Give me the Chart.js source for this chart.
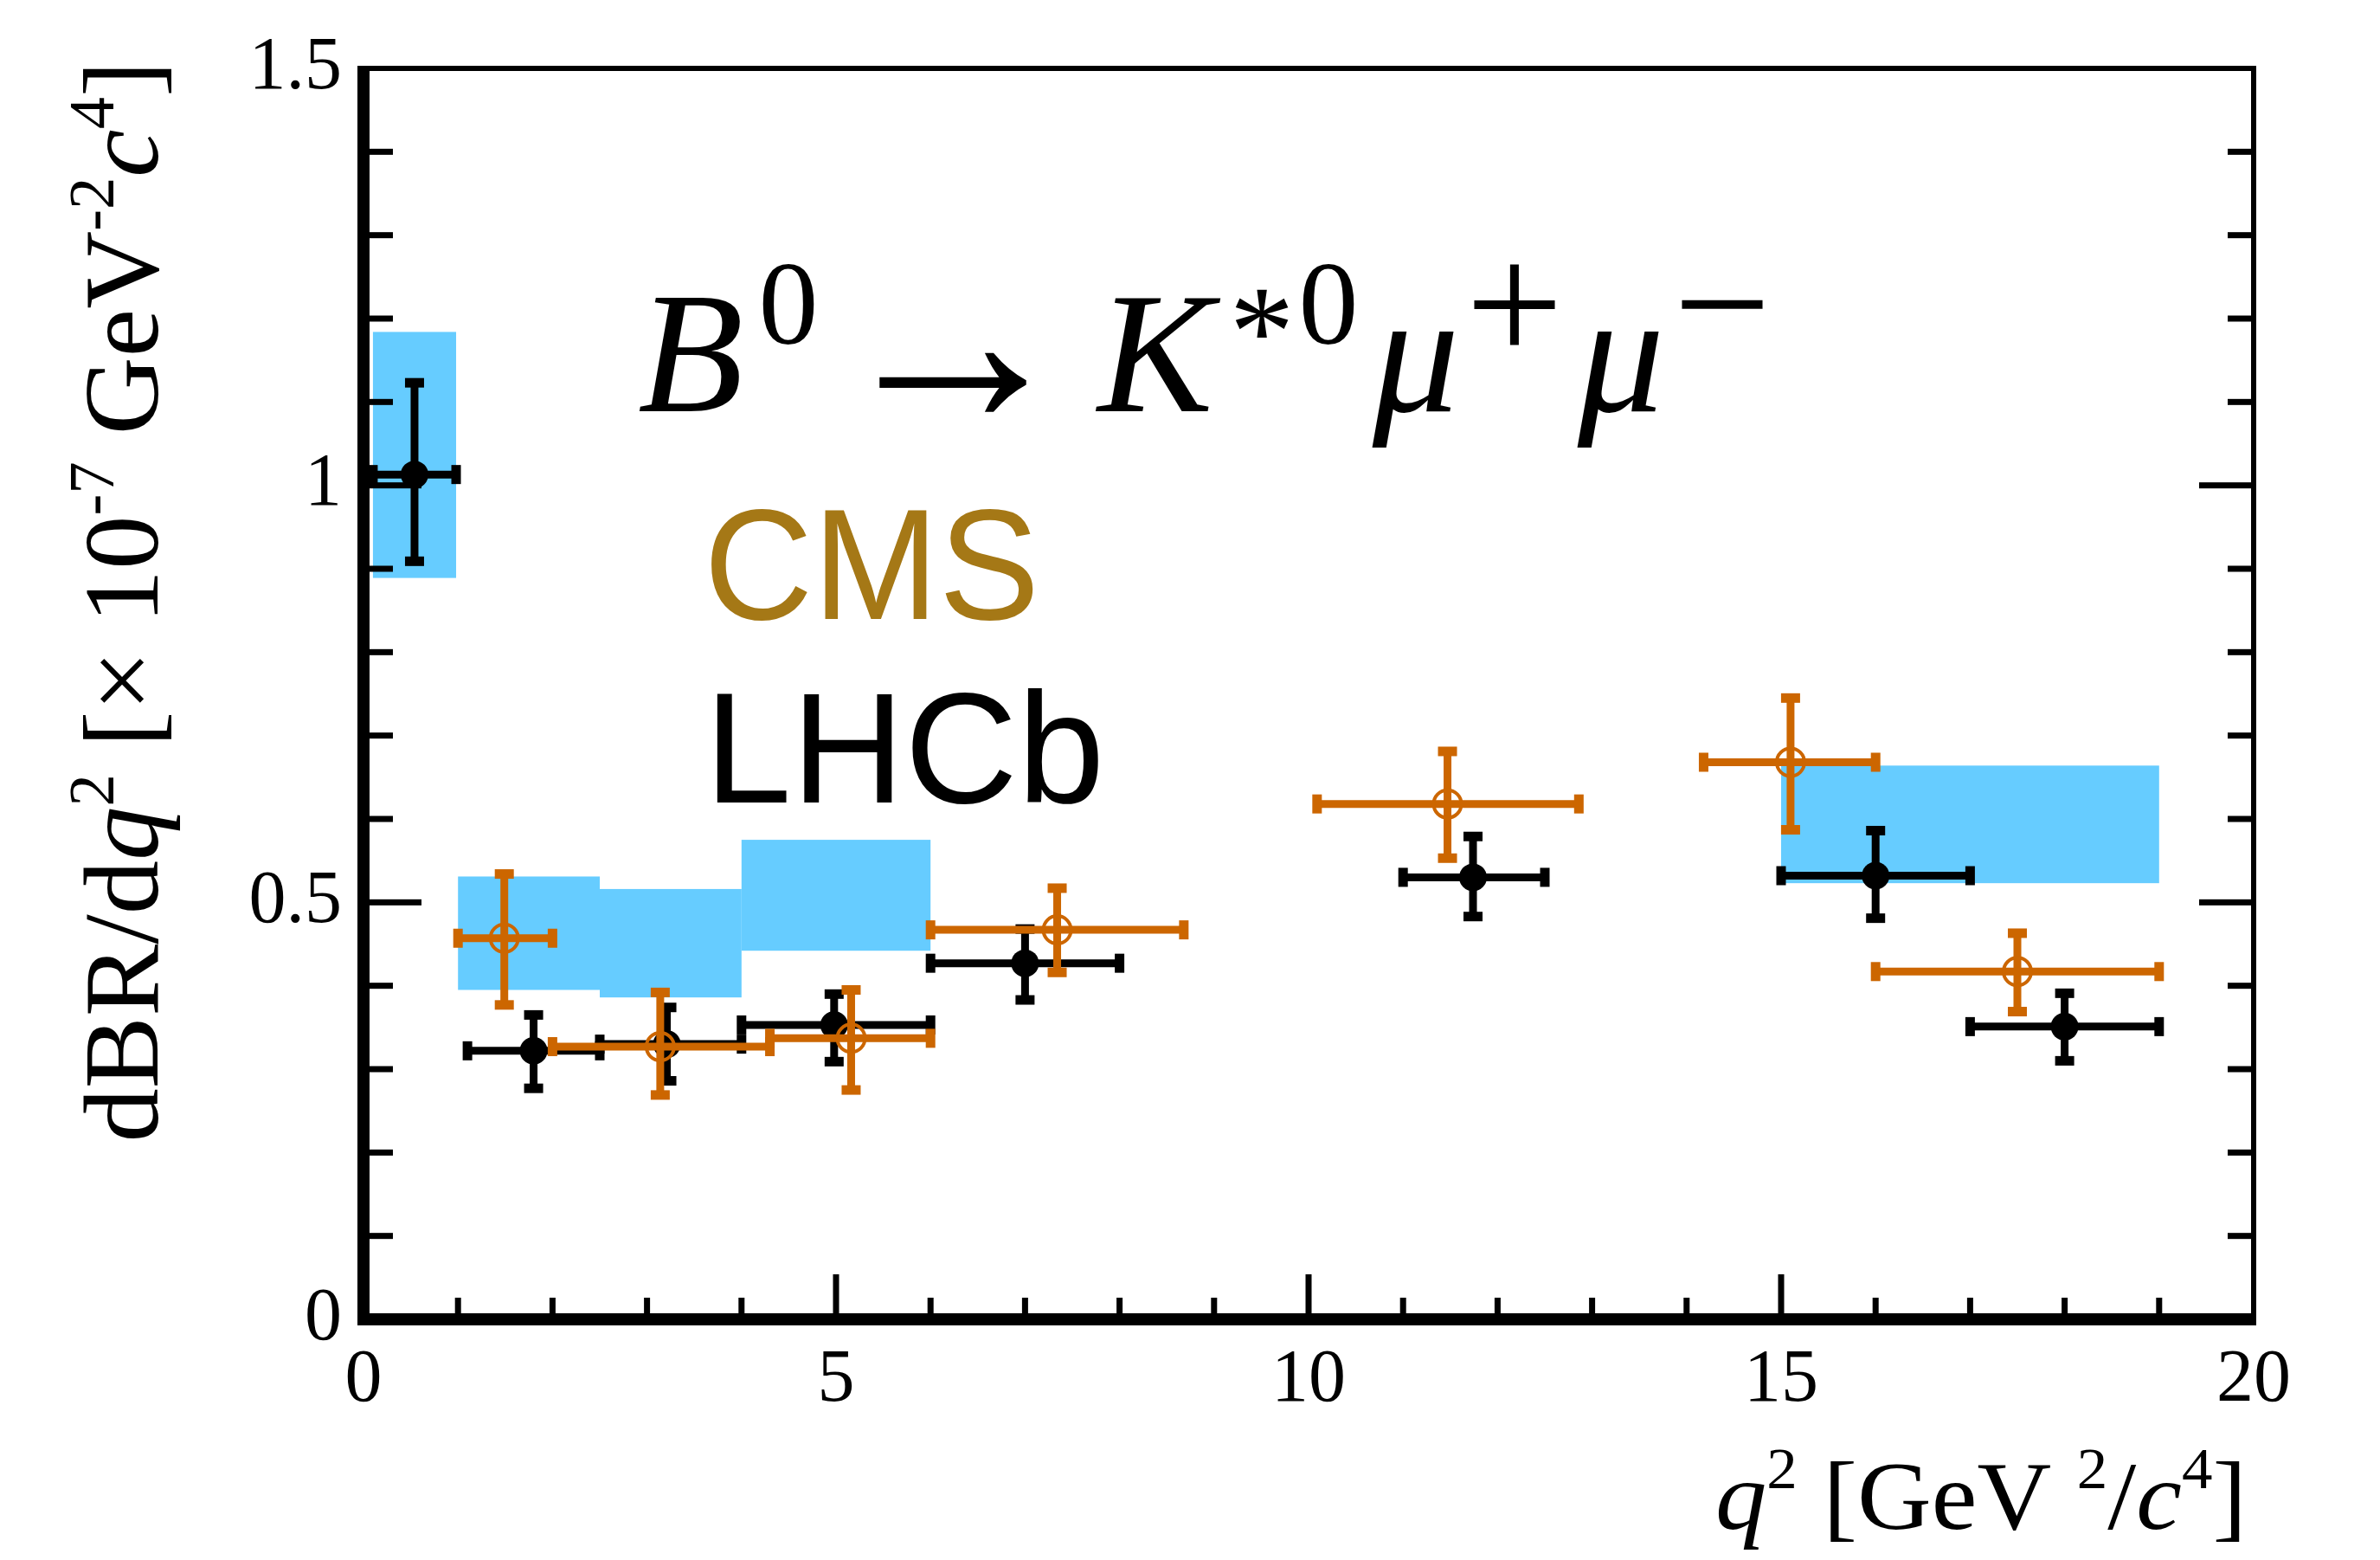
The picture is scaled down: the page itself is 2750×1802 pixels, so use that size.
<!DOCTYPE html>
<html>
<head>
<meta charset="utf-8">
<script src="https://cdn.jsdelivr.net/npm/chart.js@4.4.1/dist/chart.umd.min.js"></script>
<style>
  html, body { margin: 0; padding: 0; background: #fff; }
</style>
</head>
<body>
<canvas id="plot" width="2750" height="1802"></canvas>
<script>
// LHCb measurements (black, filled)
const lhcbX   = [0.54, 1.80, 3.21, 4.98, 7.00, 11.74, 16.00, 18.00];
const lhcbY   = [1.013, 0.322, 0.330, 0.353, 0.427, 0.530, 0.532, 0.351];
const lhcbXLo = [0.1, 1.1, 2.5, 4.0, 6.0, 11.0, 15.0, 17.0];
const lhcbXHi = [0.98, 2.5, 4.0, 6.0, 8.0, 12.5, 17.0, 19.0];
const lhcbYLo = [0.909, 0.277, 0.286, 0.309, 0.383, 0.483, 0.481, 0.310];
const lhcbYHi = [1.123, 0.365, 0.374, 0.390, 0.468, 0.579, 0.586, 0.391];

// CMS measurements (orange, open)
const cmsX   = [1.49, 3.14, 5.16, 7.34, 11.47, 15.10, 17.50];
const cmsY   = [0.457, 0.327, 0.337, 0.467, 0.618, 0.668, 0.417];
const cmsXLo = [1.0, 2.0, 4.3, 6.0, 10.09, 14.18, 16.0];
const cmsXHi = [2.0, 4.3, 6.0, 8.68, 12.86, 16.0, 19.0];
const cmsYLo = [0.377, 0.269, 0.275, 0.416, 0.553, 0.587, 0.369];
const cmsYHi = [0.534, 0.392, 0.395, 0.517, 0.681, 0.745, 0.463];

// SM prediction bands (blue)
const smXLo = [0.1, 1.0, 2.5, 4.0, 15.0];
const smXHi = [0.98, 2.5, 4.0, 6.0, 19.0];
const smYLo = [0.889, 0.395, 0.386, 0.442, 0.523];
const smYHi = [1.184, 0.531, 0.516, 0.575, 0.664];

// axis ticks
const xTickStep = 5, xMinorStep = 1;
const yTickStep = 0.5, yMinorStep = 0.1;

const SERIF = "'Liberation Serif', 'DejaVu Serif', serif";
const SANS = "'Liberation Sans', Arial, sans-serif";
const ORANGE = '#cc6600';
const BLUE = '#66ccff';

function toPoints(xs, ys) {
  return xs.map((x, i) => ({ x: x, y: ys[i] }));
}

// blue theory boxes, behind everything
const bandsPlugin = {
  id: 'bands',
  beforeDatasetsDraw(chart) {
    const ctx = chart.ctx, xs = chart.scales.x, ys = chart.scales.y;
    ctx.save();
    ctx.fillStyle = BLUE;
    smXLo.forEach((lo, i) => {
      const x0 = xs.getPixelForValue(lo), x1 = xs.getPixelForValue(smXHi[i]);
      const y0 = ys.getPixelForValue(smYHi[i]), y1 = ys.getPixelForValue(smYLo[i]);
      ctx.fillRect(x0, y0, x1 - x0, y1 - y0);
    });
    ctx.restore();
  }
};

// error bars drawn just before each dataset's markers
const errorBarsPlugin = {
  id: 'errorBars',
  beforeDatasetDraw(chart, args) {
    const ds = chart.data.datasets[args.index];
    if (!ds.err) return;
    const ctx = chart.ctx, xs = chart.scales.x, ys = chart.scales.y;
    const e = ds.err;
    const lw = 9, capL = 22, capT = 11;
    ctx.save();
    ctx.strokeStyle = ds.barColor;
    ctx.fillStyle = ds.barColor;
    ctx.lineWidth = lw;
    ds.data.forEach((p, i) => {
      const px = xs.getPixelForValue(p.x), py = ys.getPixelForValue(p.y);
      const xl = xs.getPixelForValue(e.xlo[i]), xh = xs.getPixelForValue(e.xhi[i]);
      const yl = ys.getPixelForValue(e.ylo[i]), yh = ys.getPixelForValue(e.yhi[i]);
      ctx.beginPath();
      ctx.moveTo(xl, py); ctx.lineTo(xh, py);
      ctx.moveTo(px, yl); ctx.lineTo(px, yh);
      ctx.stroke();
      ctx.fillRect(xl - capT / 2, py - capL / 2, capT, capL);
      ctx.fillRect(xh - capT / 2, py - capL / 2, capT, capL);
      ctx.fillRect(px - capL / 2, yl - capT / 2, capL, capT);
      ctx.fillRect(px - capL / 2, yh - capT / 2, capL, capT);
    });
    ctx.restore();
  }
};

// ROOT-like frame with inward ticks
const framePlugin = {
  id: 'frame',
  afterDatasetsDraw(chart) {
    const ctx = chart.ctx, xs = chart.scales.x, ys = chart.scales.y;
    const l = xs.getPixelForValue(xs.min), r = xs.getPixelForValue(xs.max);
    const t = ys.getPixelForValue(ys.max), b = ys.getPixelForValue(ys.min);
    ctx.save();
    ctx.fillStyle = '#000';
    ctx.fillRect(l, t - 3, r - l + 3, 6);
    ctx.fillRect(r - 3, t - 3, 6, b - t + 3);
    ctx.fillRect(l - 7, t - 3, 14, b - t + 10);
    ctx.fillRect(l - 7, b - 7, r - l + 10, 14);
    for (let i = 1; i * yMinorStep < ys.max - 1e-9; i++) {
      const v = i * yMinorStep;
      const py = ys.getPixelForValue(v);
      const major = Math.abs(v / yTickStep - Math.round(v / yTickStep)) < 1e-6;
      const len = major ? 60 : 27;
      ctx.fillRect(l + 7, py - 3.5, len, 7);
      ctx.fillRect(r - 3 - len, py - 3.5, len, 7);
    }
    for (let i = 1; i * xMinorStep < xs.max - 1e-9; i++) {
      const v = i * xMinorStep;
      const px = xs.getPixelForValue(v);
      const major = v % xTickStep === 0;
      const len = major ? 45 : 18;
      ctx.fillRect(px - 3.5, b - 7 - len, 7, len);
    }
    ctx.restore();
  }
};

function segFont(s, size) {
  return (s.it ? 'italic ' : '') + Math.round(size * (s.sup ? 0.6 : 1)) + 'px ' + SERIF;
}
function richWidth(ctx, segs, size) {
  let w = 0;
  segs.forEach(s => { ctx.font = segFont(s, size); w += ctx.measureText(s.t).width; });
  return w;
}
function drawRich(ctx, segs, size, x0) {
  let x = x0;
  segs.forEach(s => {
    ctx.font = segFont(s, size);
    ctx.fillText(s.t, x, s.sup ? -size * 0.42 : 0);
    x += ctx.measureText(s.t).width;
  });
}
function fitText(ctx, text, font, inkL, inkR, base, color) {
  ctx.save();
  ctx.font = font;
  ctx.fillStyle = color;
  const m = ctx.measureText(text);
  const ink = m.actualBoundingBoxLeft + m.actualBoundingBoxRight;
  const k = (inkR - inkL) / ink;
  ctx.translate(inkL + m.actualBoundingBoxLeft * k, base);
  ctx.scale(k, 1);
  ctx.textAlign = 'left';
  ctx.fillText(text, 0, 0);
  ctx.restore();
}

const yTitle = [
  { t: 'dBR/d' }, { t: 'q', it: 1 }, { t: '2', sup: 1 }, { t: ' [\u00d7 10' }, { t: '-7', sup: 1 },
  { t: ' GeV' }, { t: '-2', sup: 1 }, { t: 'c', it: 1 }, { t: '4', sup: 1 }, { t: ']' }
];
const xTitle = [
  { t: 'q', it: 1 }, { t: '2', sup: 1 }, { t: ' [GeV ' }, { t: '2', sup: 1 }, { t: '/' },
  { t: 'c', it: 1 }, { t: '4', sup: 1 }, { t: ']' }
];

const textPlugin = {
  id: 'texts',
  afterDraw(chart) {
    const ctx = chart.ctx;
    ctx.save();
    ctx.fillStyle = '#000';
    ctx.textBaseline = 'alphabetic';
    ctx.textAlign = 'left';

    // y axis title, rotated
    let size = 122;
    let w = richWidth(ctx, yTitle, size);
    ctx.save();
    ctx.translate(182, 695);
    ctx.rotate(-Math.PI / 2);
    ctx.scale(1249 / w, 1);
    drawRich(ctx, yTitle, size, -w / 2);
    ctx.restore();

    // x axis title, right aligned
    size = 112;
    w = richWidth(ctx, xTitle, size);
    ctx.save();
    ctx.translate(2596, 1766);
    ctx.scale(614 / w, 1);
    drawRich(ctx, xTitle, size, -w);
    ctx.restore();

    // decay label
    const glyphs = [
      ['B', 'italic', 200, 798, 475],
      ['0', 'normal', 138, 911, 397],
      ['K', 'italic', 200, 1335, 475],
      ['*', 'normal', 150, 1458, 433],
      ['0', 'normal', 138, 1535, 397],
      ['\u03bc', 'italic', 200, 1636, 475],
      ['+', 'normal', 200, 1750, 418],
      ['\u03bc', 'italic', 200, 1873, 475],
      ['\u2212', 'normal', 200, 1990, 418]
    ];
    ctx.textAlign = 'center';
    glyphs.forEach(g => {
      ctx.font = g[1] + ' ' + g[2] + 'px ' + SERIF;
      ctx.fillText(g[0], g[3], g[4]);
    });
    ctx.restore();

    fitText(ctx, '\u2192', '290px ' + SERIF, 1016, 1186, 490, '#000');
    fitText(ctx, 'CMS', '182px ' + SANS, 822, 1194, 715, '#a57816');
    fitText(ctx, 'LHCb', '182px ' + SANS, 828, 1269, 927, '#000');
  }
};

new Chart(document.getElementById('plot'), {
  type: 'scatter',
  data: {
    datasets: [
      {
        label: 'CMS',
        data: toPoints(cmsX, cmsY),
        err: { xlo: cmsXLo, xhi: cmsXHi, ylo: cmsYLo, yhi: cmsYHi },
        barColor: ORANGE,
        pointStyle: 'circle',
        pointRadius: 16,
        pointBorderWidth: 4,
        pointBorderColor: ORANGE,
        pointBackgroundColor: 'rgba(0,0,0,0)',
        showLine: false
      },
      {
        label: 'LHCb',
        data: toPoints(lhcbX, lhcbY),
        err: { xlo: lhcbXLo, xhi: lhcbXHi, ylo: lhcbYLo, yhi: lhcbYHi },
        barColor: '#000',
        pointStyle: 'circle',
        pointRadius: 16,
        pointBorderWidth: 0,
        pointBackgroundColor: '#000',
        showLine: false
      }
    ]
  },
  options: {
    responsive: false,
    animation: false,
    devicePixelRatio: 1,
    layout: { padding: { left: 0, top: 79, right: 146, bottom: 0 } },
    plugins: { legend: { display: false }, tooltip: { enabled: false } },
    scales: {
      x: {
        type: 'linear',
        min: 0, max: 20,
        grid: { display: false, drawTicks: false },
        border: { display: false },
        ticks: { stepSize: xTickStep, color: '#000', padding: 20, maxRotation: 0,
                 font: { family: SERIF, size: 86 },
                 callback: v => String(v) },
        afterFit(s) { s.height = 278; }
      },
      y: {
        type: 'linear',
        min: 0, max: 1.5,
        grid: { display: false, drawTicks: false },
        border: { display: false },
        ticks: { stepSize: yTickStep, color: '#000', padding: 25,
                 font: { family: SERIF, size: 86 },
                 callback: v => String(v) },
        afterFit(s) { s.width = 420; }
      }
    }
  },
  plugins: [bandsPlugin, errorBarsPlugin, framePlugin, textPlugin]
});
</script>
</body>
</html>
